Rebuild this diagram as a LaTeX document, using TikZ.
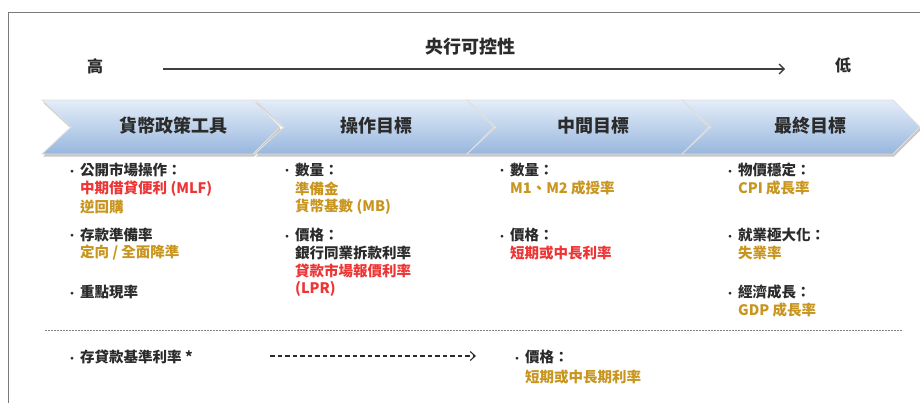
\documentclass[tikz,border=0pt]{standalone}
\usepackage{fontspec}
\setmainfont{Noto Sans CJK TC}
\usetikzlibrary{arrows.meta}
\definecolor{darkt}{HTML}{2B2B2B}
\definecolor{redt}{HTML}{EE3434}
\definecolor{goldt}{HTML}{C8951E}
\definecolor{chtop}{HTML}{E4EDF8}
\definecolor{chbot}{HTML}{98B7DE}
\definecolor{frame}{HTML}{7A7A7A}
\tikzset{
  x=1pt, y=-1pt,
  chev/.style={top color=chtop, bottom color=chbot, draw=white!75!gray, line width=0.8pt},
  chevshadow/.style={fill=black!22, draw=none},
  head/.style={font=\fontsize{18}{20}\selectfont\bfseries, text=darkt, inner sep=0},
  title/.style={font=\fontsize{18}{20}\selectfont\bfseries, text=darkt, inner sep=0},
  endlab/.style={font=\fontsize{16}{18}\selectfont\bfseries, text=darkt, inner sep=0},
  item/.style={anchor=west, font=\fontsize{14.5}{16}\selectfont\bfseries, text=darkt, inner sep=0},
  sub/.style={anchor=west, font=\fontsize{14.5}{16}\selectfont\bfseries, inner sep=0},
  redi/.style={sub, text=redt},
  goldi/.style={sub, text=goldt},
  darki/.style={sub, text=darkt},
}
\newcommand{\bul}{\makebox[13pt][l]{\raisebox{0.5pt}{\fontsize{10}{10}\selectfont •}}}
\begin{document}
\begin{tikzpicture}
\useasboundingbox (0,0) rectangle (920,402);
\fill[white] (0,0) rectangle (920,402);
% frame
\draw[frame, line width=1pt] (8,410) -- (8,12) -- (930,12);

% title and arrow
\node[title] (ttl) at (470,47) {央行可控性};
\node[endlab] (hi) at (95,66) {高};
\node[endlab] (lo) at (843,65) {低};
\coordinate (ctrlA) at (163,69);
\coordinate (ctrlB) at (785,69);
\draw[darkt!90, line width=1.3pt, -{Straight Barb[length=5pt,width=10pt,line width=1.3pt]}] (ctrlA) -- (ctrlB);

% chevrons
\foreach \L/\R in {42/253, 255/467, 467/682, 682/893}{
  \pgfmathsetmacro{\T}{\R+27}
  \pgfmathsetmacro{\N}{\L+29}
  \fill[chevshadow] (\L+1,102.5) -- (\R+1,102.5) -- (\T+1,129.5) -- (\R+1,156.5) -- (\L+1,156.5) -- (\N+1,129.5) -- cycle;
}
\foreach \L/\R in {42/253, 255/467, 467/682, 682/893}{
  \pgfmathsetmacro{\T}{\R+27}
  \pgfmathsetmacro{\N}{\L+29}
  \path[chev] (\L,100) -- (\R,100) -- (\T,127) -- (\R,154) -- (\L,154) -- (\N,127) -- cycle;
}
\node[head] (h1) at (173,126) {貨幣政策工具};
\node[head] (h2) at (376,126) {操作目標};
\node[head] (h3) at (593,126) {中間目標};
\node[head] (h4) at (810,126) {最終目標};

% column 1
\node[item] (c1a) at (67,170) {\bul 公開市場操作：};
\node[redi] (c1a1) at (80,189) {中期借貸便利 (MLF)};
\node[goldi] (c1a2) at (80,207) {逆回購};
\node[item] (c1b) at (67,235) {\bul 存款準備率};
\node[goldi] (c1b1) at (80,253) {定向 / 全面降準};
\node[item] (c1c) at (67,292) {\bul 重點現率};

% column 2
\node[item] (c2a) at (282,170) {\bul 數量：};
\node[goldi] (c2a1) at (295,189) {準備金};
\node[goldi] (c2a2) at (295,207) {貨幣基數 (MB)};
\node[item] (c2b) at (282,235) {\bul 價格：};
\node[darki] (c2b1) at (295,253) {銀行同業拆款利率};
\node[redi] (c2b2) at (295,271) {貸款市場報價利率};
\node[redi] (c2b3) at (295,289) {(LPR)};

% column 3
\node[item] (c3a) at (497,170) {\bul 數量：};
\node[goldi] (c3a1) at (510,188) {M1、M2 成授率};
\node[item] (c3b) at (497,235) {\bul 價格：};
\node[redi] (c3b1) at (510,253) {短期或中長利率};

% column 4
\node[item] (c4a) at (725,170) {\bul 物價穩定：};
\node[goldi] (c4a1) at (738,188) {CPI 成長率};
\node[item] (c4b) at (725,235) {\bul 就業極大化：};
\node[goldi] (c4b1) at (738,253) {失業率};
\node[item] (c4c) at (725,292) {\bul 經濟成長：};
\node[goldi] (c4c1) at (738,310) {GDP 成長率};

% separator
\coordinate (sepA) at (45,330);
\coordinate (sepB) at (903,330);
\draw[black!50, line width=0.7pt, dash pattern=on 2pt off 1pt] (sepA) -- (sepB);

% bottom row
\node[item] (d1) at (67,357) {\bul 存貸款基準利率 *};
\coordinate (dA) at (270,356);
\coordinate (dB) at (476,356);
\draw[darkt, line width=1.1pt, dash pattern=on 4.5pt off 3pt, -{Straight Barb[length=5pt,width=9pt,line width=1.1pt]}] (dA) -- (dB);
\node[item] (d2) at (512,357) {\bul 價格：};
\node[goldi] (d21) at (525,377) {短期或中長期利率};
\end{tikzpicture}
\end{document}
